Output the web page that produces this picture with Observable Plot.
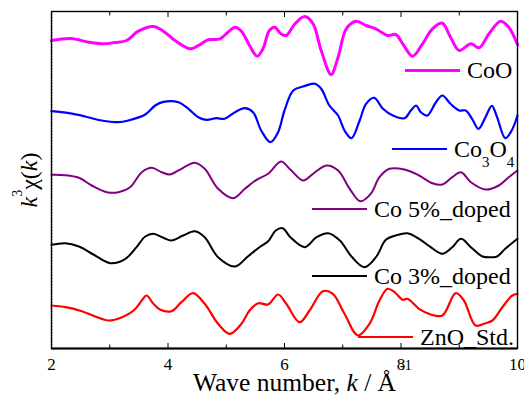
<!DOCTYPE html>
<html><head><meta charset="utf-8">
<script src="https://cdn.jsdelivr.net/npm/d3@7"></script>
<script src="https://cdn.jsdelivr.net/npm/@observablehq/plot@0.6"></script>
<style>
html,body{margin:0;padding:0;background:#fff;}
#wrap{position:relative;width:524px;height:396px;font-family:"Liberation Serif","Times New Roman",serif;}
#wrap svg{display:block;}
.leg{position:absolute;display:flex;align-items:center;height:24px;line-height:24px;font-size:24px;white-space:nowrap;color:#000;}
.leg .sw{display:inline-block;width:55px;margin-right:7px;}
.leg sub{font-size:15px;vertical-align:-10px;line-height:0;}
</style></head><body><div id="wrap"></div>
<script>
// Series (k in Å^-1, k^3 chi(k) in arbitrary units, before vertical offset)
const kCoO = [2.0,2.33,2.64,2.89,3.09,3.29,3.49,3.75,3.92,4.12,4.39,4.57,4.69,4.89,5.03,5.15,5.26,5.40,5.53,5.63,5.74,5.83,5.94,6.03,6.18,6.35,6.49,6.63,6.80,6.92,7.06,7.23,7.40,7.57,7.77,7.91,8.03,8.20,8.37,8.54,8.71,8.85,9.00,9.20,9.34,9.51,9.71,9.85,10.0];
const chiCoO = [0.0,0.2,-0.17,-0.33,-0.2,0.0,0.93,1.4,0.93,0.0,-0.83,-0.33,0.07,0.17,0.83,1.33,0.93,-0.5,-1.57,-0.83,1.0,1.33,0.67,0.5,1.67,2.4,1.67,-1.0,-3.4,-1.67,1.17,1.93,1.5,1.17,0.5,0.6,-0.33,-1.57,-0.33,1.17,1.73,0.33,-1.0,-0.33,-0.73,0.67,1.93,1.33,-0.4];

const kCo3O4 = [2.0,2.30,2.58,2.86,3.15,3.32,3.61,3.78,3.92,4.18,4.35,4.52,4.66,4.83,4.97,5.15,5.32,5.46,5.60,5.76,5.89,6.0,6.15,6.32,6.52,6.63,6.77,6.92,7.03,7.15,7.29,7.40,7.54,7.69,7.86,8.06,8.17,8.26,8.34,8.45,8.60,8.71,8.85,9.00,9.11,9.22,9.33,9.45,9.56,9.65,9.79,9.90,10.0];
const chiCo3O4 = [-0.07,-0.27,-0.6,-1.0,-1.17,-1.0,-0.4,0.5,0.87,0.83,0.17,-0.67,-0.93,-0.77,-0.83,-0.17,0.23,-0.17,-2.0,-3.17,-2.17,0.0,2.0,2.4,2.67,2.17,0.5,-0.5,-2.0,-2.77,-1.0,0.67,1.27,0.17,-0.5,-0.77,0.0,0.5,-0.17,-0.5,0.83,1.5,0.67,0.0,0.0,-0.83,-1.83,-0.67,0.47,-0.67,-2.77,-2.0,-0.5];

const kCo5 = [2.0,2.24,2.47,2.69,2.95,3.15,3.35,3.55,3.72,3.89,4.03,4.23,4.46,4.63,4.86,5.12,5.32,5.52,5.72,5.94,6.10,6.32,6.49,6.72,6.92,7.12,7.30,7.48,7.63,7.80,8.06,8.31,8.54,8.71,8.88,9.03,9.20,9.45,9.68,9.85,10.0];
const chiCo5 = [0.07,0.03,-0.23,-1.0,-1.67,-1.67,-1.17,0.33,0.77,0.33,0.1,0.67,1.27,0.67,-1.33,-2.27,-1.33,-0.43,0.17,1.4,0.6,-0.5,0.17,1.0,0.5,-1.33,-2.57,-1.83,-0.17,0.67,0.6,0.0,-0.77,-0.9,-0.17,0.33,-0.67,-1.4,-1.0,-0.17,0.5];

const kCo3 = [2.0,2.24,2.47,2.72,3.01,3.27,3.46,3.61,3.75,3.92,4.06,4.26,4.46,4.63,4.86,5.15,5.37,5.57,5.72,5.85,5.97,6.10,6.35,6.55,6.75,6.95,7.15,7.37,7.57,7.74,7.91,8.11,8.31,8.51,8.71,8.88,9.03,9.20,9.40,9.57,9.65,9.79,10.0];
const chiCo3 = [-0.13,0.03,-0.3,-1.1,-1.97,-1.53,-0.37,0.7,0.97,0.57,0.3,0.8,1.23,0.63,-1.37,-2.3,-1.3,-0.37,0.23,1.3,1.53,0.63,-0.37,0.63,1.03,0.3,-1.3,-2.37,-1.37,0.37,0.8,1.03,0.47,-0.37,-1.03,-0.37,0.47,-0.37,-1.3,-1.37,-1.3,-0.53,0.47];

const kZnO = [2.0,2.24,2.52,2.75,2.98,3.21,3.41,3.55,3.63,3.75,3.86,4.06,4.23,4.43,4.63,4.86,5.06,5.26,5.40,5.55,5.72,5.89,6.03,6.26,6.43,6.66,6.83,7.03,7.26,7.46,7.63,7.77,7.89,8.03,8.11,8.31,8.51,8.71,8.94,9.08,9.28,9.45,9.57,9.74,9.91,10.0];
const chiZnO = [0.0,-0.17,-0.57,-1.1,-1.5,-1.17,-0.5,0.5,1.0,0.17,-0.4,-0.57,0.33,1.23,0.17,-1.83,-2.83,-1.83,-0.5,0.23,0.1,1.1,0.17,-1.67,-0.5,1.43,1.17,-0.83,-3.0,-1.83,0.5,1.67,1.33,0.57,0.67,-0.33,-0.9,-1.0,1.23,0.5,-2.0,-1.77,-1.5,-0.17,1.0,1.17];

const seriesNames = ["CoO","Co3O4","Co 5%_doped","Co 3%_doped","ZnO_Std."];
const seriesK = [kCoO,kCo3O4,kCo5,kCo3,kZnO];
const seriesChi = [chiCoO,chiCo3O4,chiCo5,chiCo3,chiZnO];
const seriesOffset = [16, 9, 2.5, -4.3, -10.5];
const seriesColor = ["#ff00ff","#0000ff","#800080","#000000","#ff0000"];
const seriesWidth = [3, 2.2, 2, 2, 2.2];

const xMajor = [2,4,6,8,10];
const xMinor = [3,5,7,9];
const yDomain = [-14.8, 18.9];

const rowsBy = seriesNames.map((name,i) =>
  seriesK[i].map((k,j) => ({series: name, k, y: seriesChi[i][j] + seriesOffset[i]})));

const font = '"Liberation Serif","Times New Roman",serif';
const plot = Plot.plot({
  width: 524, height: 396,
  marginTop: 11, marginBottom: 48, marginLeft: 51, marginRight: 7,
  style: {fontFamily: font, fontSize: "17px", color: "#000", background: "#fff", overflow: "visible"},
  x: {domain: [2, 10], label: null},
  y: {domain: yDomain, label: null},
  marks: [
    ...rowsBy.map((rows,i) => Plot.line(rows, {x: "k", y: "y", stroke: seriesColor[i], strokeWidth: seriesWidth[i], curve: "catmull-rom"})),
    Plot.axisY({anchor: "left", ticks: d3.range(-14.4, 18.9, 0.3), tickSize: -1.5, fill: "none", stroke: "#666", label: null}),
    Plot.axisX({anchor: "bottom", ticks: xMajor, tickSize: 0, tickPadding: 9, fontSize: 17, label: null}),
    Plot.axisX({anchor: "bottom", ticks: xMajor, tickSize: -5, fill: "none", label: null}),
    Plot.axisX({anchor: "bottom", ticks: xMinor, tickSize: -3.5, fill: "none", label: null}),
    Plot.axisX({anchor: "top", ticks: xMajor, tickSize: -5, fill: "none", label: null}),
    Plot.axisX({anchor: "top", ticks: xMinor, tickSize: -3.5, fill: "none", label: null}),
    Plot.frame({stroke: "#000", strokeWidth: 1.4}),
    Plot.ruleY([yDomain[0]], {stroke: "#000", strokeWidth: 2})
  ]
});

const svg = d3.select(plot);
const xl = svg.append("text").attr("x", 193).attr("y", 391).attr("text-anchor", "start")
  .attr("font-size", 25.5).attr("font-family", font).attr("fill", "#000");
xl.append("tspan").text("Wave number, ");
xl.append("tspan").attr("font-style", "italic").text("k");
xl.append("tspan").text(" / Å");
xl.append("tspan").attr("font-size", 14).attr("dy", -21).attr("dx", 4).text("-1");

const yl = svg.append("text").attr("transform", "translate(37,180) rotate(-90)").attr("text-anchor", "middle")
  .attr("font-size", 24).attr("font-family", font).attr("fill", "#000");
yl.append("tspan").attr("font-style", "italic").text("k");
yl.append("tspan").attr("font-size", 14).attr("dy", -15).text("3");
yl.append("tspan").attr("dy", 15).text("χ(");
yl.append("tspan").attr("font-style", "italic").text("k");
yl.append("tspan").text(")");

const wrap = document.getElementById("wrap");
wrap.appendChild(plot);

// Legend entries placed inside the plot area
const legendLeft = [405, 392, 312, 312, 358];
const legendTop = [58, 137, 197, 264, 325];
const legendHTML = ["CoO", "Co<sub>3</sub>O<sub>4</sub>", "Co 5%_doped", "Co 3%_doped", "ZnO_Std."];
seriesNames.forEach((name, i) => {
  const d = document.createElement("div");
  d.className = "leg";
  d.style.left = legendLeft[i] + "px";
  d.style.top = legendTop[i] + "px";
  const sw = document.createElement("span");
  sw.className = "sw";
  sw.style.borderTop = seriesWidth[i] + "px solid " + seriesColor[i];
  d.appendChild(sw);
  const t = document.createElement("span");
  t.innerHTML = legendHTML[i];
  d.appendChild(t);
  wrap.appendChild(d);
});
</script></body></html>
